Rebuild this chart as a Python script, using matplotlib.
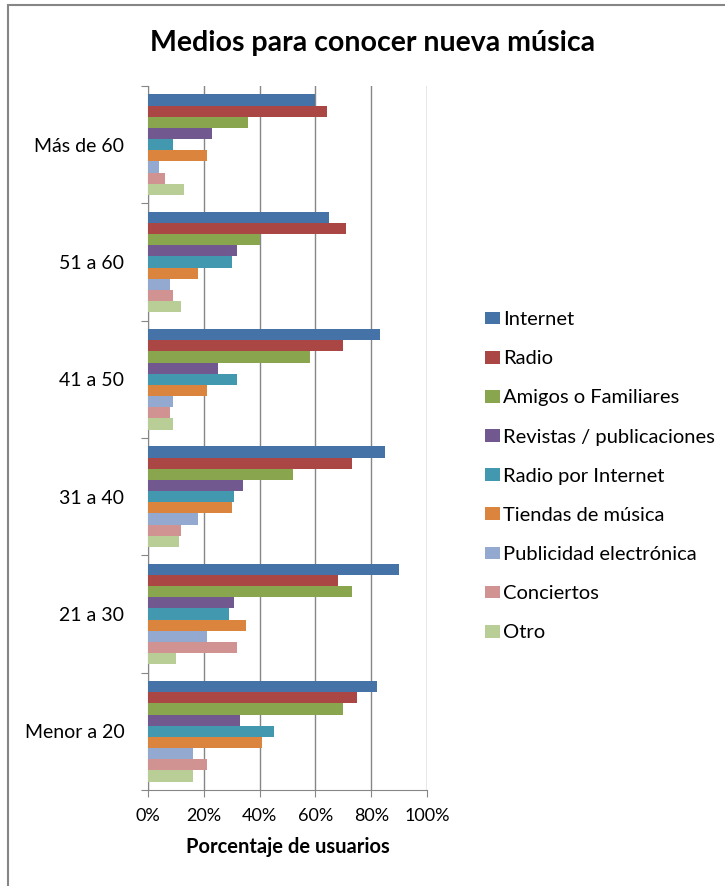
import numpy as np
import matplotlib.pyplot as plt
from matplotlib.patches import Rectangle

plt.rcParams['font.family'] = ['Lato', 'DejaVu Sans']

groups = ["Menor a 20", "21 a 30", "31 a 40", "41 a 50", "51 a 60", "Más de 60"]
series = ["Internet", "Radio", "Amigos o Familiares", "Revistas / publicaciones",
          "Radio por Internet", "Tiendas de música", "Publicidad electrónica",
          "Conciertos", "Otro"]
colors = ["#4572A7", "#AA4643", "#89A54E", "#71588F", "#4198AF",
          "#DB843D", "#93A9CF", "#D19392", "#B9CD96"]

# percent of users, one list per series, groups ordered as above
internet = [82, 90, 85, 83, 65, 60]
radio = [75, 68, 73, 70, 71, 64]
amigos = [70, 73, 52, 58, 40, 36]
revistas = [33, 31, 34, 25, 32, 23]
radio_internet = [45, 29, 31, 32, 30, 9]
tiendas = [41, 35, 30, 21, 18, 21]
publicidad = [16, 21, 18, 9, 8, 4]
conciertos = [21, 32, 12, 8, 9, 6]
otro = [16, 10, 11, 9, 12, 13]
values = [internet, radio, amigos, revistas, radio_internet,
          tiendas, publicidad, conciertos, otro]

fig = plt.figure(figsize=(7.25, 8.86), dpi=100)
fig.patches.append(Rectangle((8 / 725, -0.1), 1.2, 1 - 5 / 886 + 0.1,
                             transform=fig.transFigure, fill=False,
                             edgecolor="#868686", linewidth=1.5))

ax = fig.add_axes([148 / 725, 1 - 790 / 886, 279 / 725, 704 / 886])

h = 1 / 10.5
n = len(series)
for j, (name, vals, c) in enumerate(zip(series, values, colors)):
    y = np.arange(len(groups)) + 0.5 + (n / 2 - j - 0.5) * h
    ax.barh(y, vals, height=h, color=c, label=name, zorder=3)

ax.set_xlim(0, 100)
ax.set_ylim(0, len(groups))
ax.set_xticks(np.arange(0, 101, 20))
ax.set_xticklabels([f"{v}%" for v in range(0, 101, 20)], fontsize=13)
ax.grid(axis="x", color="#868686", linewidth=1, zorder=0)

ax.set_yticks(np.arange(len(groups) + 1))
ax.set_yticklabels([])
ax.set_yticks(np.arange(len(groups)) + 0.5, minor=True)
ax.set_yticklabels(groups, minor=True, fontsize=14)
ax.tick_params(axis="y", which="minor", length=0, pad=17)
ax.tick_params(axis="y", which="major", length=5, color="#868686")
ax.tick_params(axis="x", length=5, color="#868686", pad=8)

for s in ["top", "right"]:
    ax.spines[s].set_visible(False)
for s in ["left", "bottom"]:
    ax.spines[s].set_color("#868686")

ax.set_xlabel("Porcentaje de usuarios", fontsize=14.5, fontweight="bold", labelpad=9)
fig.text(373 / 725, 1 - 43 / 886, "Medios para conocer nueva música",
         ha="center", va="center", fontsize=20.5, fontweight="bold")

fig.legend(loc="upper left", bbox_to_anchor=(467 / 725, 1 - 293 / 886),
           frameon=False, fontsize=14.5, handlelength=0.75, handleheight=0.6,
           handletextpad=0.15, labelspacing=1.1)

fig.savefig("out.png", dpi=100)
